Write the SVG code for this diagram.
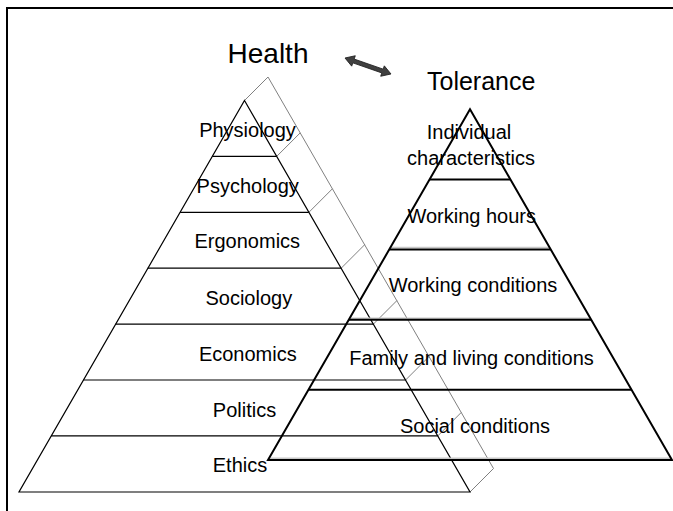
<svg xmlns="http://www.w3.org/2000/svg" width="673" height="511" viewBox="0 0 673 511">
<style>
text{font-family:"Liberation Sans",Arial,sans-serif;fill:#000;text-anchor:middle}
.lbl{font-size:20px}
.ttl{font-size:28px}
.h{fill:none;stroke:#000;stroke-width:1.2}
.g{fill:none;stroke:#808080;stroke-width:1}
.t{fill:none;stroke:#000;stroke-width:2}
.ts{fill:none;stroke:#c8c8c8;stroke-width:1.5}
.frame{fill:none;stroke:#000;stroke-width:2}
</style>
<rect width="673" height="511" fill="#fff"/>
<path class="frame" d="M7,511 V8 H673"/>

<g id="health-title"><text class="ttl" x="268" y="63.3">Health</text></g>
<g id="tolerance-title"><text class="ttl" x="427" y="90" style="font-size:25px;text-anchor:start">Tolerance</text></g>

<g id="health-pyramid">
  <g id="health-shadow">
    <path class="g" d="M244.5,100.5 L268,77 L493.5,468.5 L470,492"/>
    <path class="g" d="M276.7,156.4 l23.5,-23.5 M308.9,212.3 l23.5,-23.5 M341.2,268.2 l23.5,-23.5 M373.4,324.1 l23.5,-23.5 M405.6,380 l23.5,-23.5 M437.8,435.9 l23.5,-23.5"/>
  </g>
  <path class="h" d="M244.5,100.5 L470,492 L19,492 Z"/>
  <g id="h-physiology"><path class="h" d="M212.3,156.4 H276.7"/><text class="lbl" x="247.5" y="137">Physiology</text></g>
  <g id="h-psychology"><path class="h" d="M180.1,212.3 H308.9"/><text class="lbl" x="247.7" y="192.7">Psychology</text></g>
  <g id="h-ergonomics"><path class="h" d="M147.8,268.2 H341.2"/><text class="lbl" x="247.3" y="248.3">Ergonomics</text></g>
  <g id="h-sociology"><path class="h" d="M115.6,324.1 H373.4"/><text class="lbl" x="248.8" y="305">Sociology</text></g>
  <g id="h-economics"><path class="h" d="M83.4,380 H405.6"/><text class="lbl" x="247.8" y="361">Economics</text></g>
  <g id="h-politics"><path class="h" d="M51.2,435.9 H437.8"/><text class="lbl" x="244.5" y="416.7">Politics</text></g>
  <g id="h-ethics"><text class="lbl" x="240" y="471.7">Ethics</text></g>
</g>

<g id="tolerance-pyramid">
  <path class="ts" d="M391,247.6 H550 M350.5,318.3 H590 M270,458.3 H670"/>
  <path class="t" d="M470,109.3 L672,460 L268,460 Z"/>
  <g id="t-individual"><path class="t" d="M429.7,179.4 H510.3"/><text class="lbl" x="469" y="139.3">Individual</text><text class="lbl" x="471" y="165">characteristics</text></g>
  <g id="t-hours"><path class="t" d="M389.3,249.5 H550.7"/><text class="lbl" x="471.7" y="223.3">Working hours</text></g>
  <g id="t-conditions"><path class="t" d="M348.9,319.7 H591.1"/><text class="lbl" x="473" y="291.7">Working conditions</text></g>
  <g id="t-family"><path class="t" d="M308.6,389.8 H631.4"/><text class="lbl" x="471.5" y="365">Family and living conditions</text></g>
  <g id="t-social"><text class="lbl" x="475" y="433.3">Social conditions</text></g>
</g>

<g id="connectors">
  <polygon transform="translate(345,58) rotate(19.18)" fill="#404040" stroke="#222" stroke-width="0.8" points="0,0 9,-5.5 9,-2 39.7,-2 39.7,-5.5 48.7,0 39.7,5.5 39.7,2 9,2 9,5.5"/>
</g>
</svg>
